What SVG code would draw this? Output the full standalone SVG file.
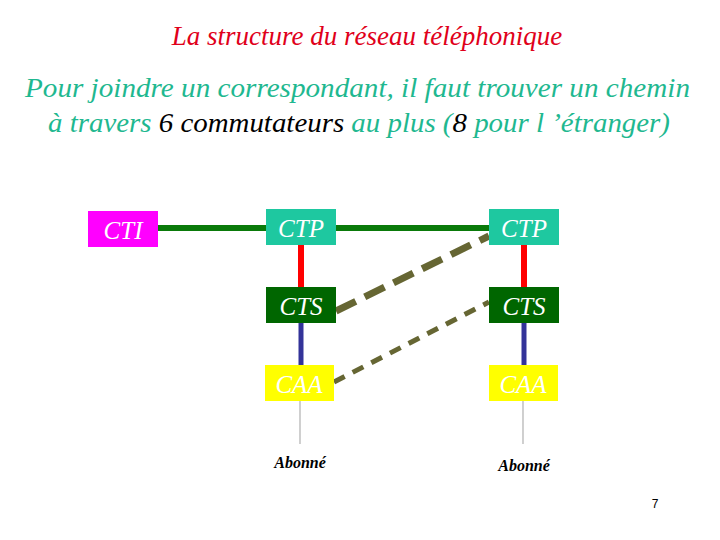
<svg xmlns="http://www.w3.org/2000/svg" width="720" height="540" viewBox="0 0 720 540">
<style>
.t{font-family:"Liberation Serif","Times New Roman",serif;font-style:italic}
.sub{font-family:"Liberation Serif","Times New Roman",serif;font-style:italic;font-size:27px;fill:#1fb890}
.box{font-family:"Liberation Serif","Times New Roman",serif;font-style:italic;font-size:25px;fill:#ffffff;text-anchor:middle}
.ab{font-family:"Liberation Serif","Times New Roman",serif;font-style:italic;font-weight:bold;font-size:16px;fill:#000;text-anchor:middle}
</style>
<rect width="720" height="540" fill="#ffffff"/>
<text class="t" x="367" y="45" font-size="27" fill="#e0001a" text-anchor="middle">La structure du réseau téléphonique</text>
<text class="sub" x="25" y="97" textLength="665" lengthAdjust="spacingAndGlyphs">Pour joindre un correspondant, il faut trouver un chemin</text>
<text class="sub" x="48" y="132" textLength="622" lengthAdjust="spacingAndGlyphs">à travers  <tspan fill="#000">6 commutateurs</tspan> au plus (<tspan fill="#000">8</tspan> pour l ’étranger)</text>
<g id="connectors">
<line x1="158" y1="228" x2="489" y2="228" stroke="#0a7a0a" stroke-width="6"/>
<line x1="301" y1="245" x2="301" y2="288" stroke="#ff0000" stroke-width="6"/>
<line x1="524" y1="245" x2="524" y2="288" stroke="#ff0000" stroke-width="6"/>
<line x1="301" y1="323" x2="301" y2="366" stroke="#333399" stroke-width="5"/>
<line x1="524" y1="323" x2="524" y2="366" stroke="#333399" stroke-width="5"/>
<line x1="300" y1="401" x2="300" y2="444" stroke="#b0b0b0" stroke-width="1.2"/>
<line x1="523" y1="401" x2="523" y2="444" stroke="#b0b0b0" stroke-width="1.2"/>
<line x1="336" y1="311" x2="489" y2="236" stroke="#666633" stroke-width="7" stroke-dasharray="22,10"/>
<line x1="334" y1="382" x2="489" y2="302" stroke="#666633" stroke-width="5" stroke-dasharray="12,9"/>
</g>
<g id="cti"><rect x="88" y="211" width="70" height="36" fill="#ff00ff"/><text class="box" x="123" y="239">CTI</text></g>
<g id="ctp1"><rect x="266" y="209" width="70" height="36" fill="#1ec8a0"/><text class="box" x="301" y="237">CTP</text></g>
<g id="ctp2"><rect x="489" y="209" width="70" height="36" fill="#1ec8a0"/><text class="box" x="524" y="237">CTP</text></g>
<g id="cts1"><rect x="266" y="287" width="70" height="36" fill="#006600"/><text class="box" x="301" y="315">CTS</text></g>
<g id="cts2"><rect x="489" y="287" width="70" height="36" fill="#006600"/><text class="box" x="524" y="315">CTS</text></g>
<g id="caa1"><rect x="265" y="365" width="69" height="36" fill="#ffff00"/><text class="box" x="299" y="393">CAA</text></g>
<g id="caa2"><rect x="489" y="365" width="69" height="36" fill="#ffff00"/><text class="box" x="523" y="393">CAA</text></g>
<g id="ab1"><text class="ab" x="300" y="468">Abonné</text></g>
<g id="ab2"><text class="ab" x="524" y="471">Abonné</text></g>
<text x="655" y="508" font-family="Liberation Sans, sans-serif" font-size="12" fill="#000" text-anchor="middle">7</text>
</svg>
